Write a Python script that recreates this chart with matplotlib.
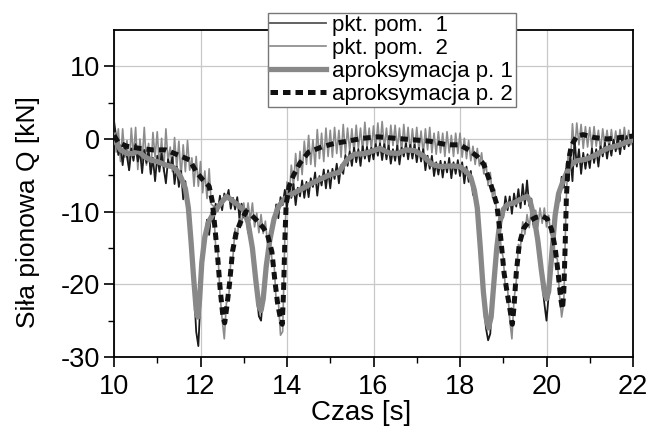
import numpy as np
import matplotlib
matplotlib.use("Agg")
import matplotlib.pyplot as plt

plt.rcParams['font.family'] = ['Liberation Sans', 'DejaVu Sans']
plt.rcParams['axes.unicode_minus'] = False

# =========================
# DATA
# =========================
# measurement samples, 0.05 s step
t_pom = np.round(np.arange(10.0, 22.0001, 0.05), 2)

pom_1 = [
    2.5, 0.3, -2.2, -0.9, -3.6, -0.9, -2.4, -4.3, -1.3, -3.0,
    -0.7, -3.1, -1.6, -4.7, -1.5, -3.3, -1.5, -4.8, -2.6, -5.8,
    -2.3, -4.5, -2.0, -4.1, -6.1, -2.8, -3.9, -2.5, -6.2, -3.8,
    -6.6, -4.4, -8.3, -5.8, -10.0, -10.8, -16.7, -20.6, -26.5, -28.5,
    -22.0, -15.1, -14.3, -11.1, -13.2, -10.1, -11.6, -8.9, -9.9, -7.8,
    -9.8, -7.5, -8.3, -7.0, -9.6, -8.1, -9.7, -8.0, -10.8, -8.9,
    -10.8, -9.6, -12.9, -12.4, -16.1, -17.2, -21.4, -24.4, -25.0, -21.3,
    -19.7, -15.5, -15.3, -11.8, -11.8, -9.0, -10.9, -8.0, -9.1, -7.0,
    -9.4, -6.9, -8.1, -6.2, -9.1, -6.7, -7.9, -5.7, -8.1, -5.9,
    -8.0, -5.4, -6.6, -4.6, -7.8, -5.1, -6.4, -4.2, -6.8, -4.3,
    -6.8, -4.1, -5.5, -3.4, -6.1, -3.6, -4.8, -2.2, -3.7, -1.7,
    -3.7, -1.2, -3.2, -1.4, -3.7, -1.0, -2.7, -1.1, -3.1, -1.2,
    -2.8, -0.7, -2.3, -0.6, -2.9, -0.7, -2.8, -0.9, -3.4, -1.4,
    -3.0, -0.9, -3.5, -1.2, -2.4, -0.6, -2.8, -0.8, -2.7, -0.8,
    -3.2, -1.2, -3.1, -1.4, -4.3, -2.3, -4.1, -2.3, -5.1, -3.2,
    -4.9, -3.0, -5.3, -3.1, -4.6, -2.6, -5.4, -3.2, -4.8, -2.9,
    -5.1, -3.2, -6.1, -3.8, -5.9, -4.4, -7.7, -6.9, -10.6, -14.3,
    -18.4, -22.5, -26.0, -27.7, -26.8, -21.6, -19.5, -14.1, -13.7, -10.0,
    -10.8, -7.9, -9.8, -7.9, -10.3, -7.5, -9.3, -6.9, -9.5, -6.2,
    -9.0, -5.7, -9.2, -8.2, -11.8, -11.3, -15.1, -15.6, -20.0, -22.6,
    -25.0, -21.5, -18.7, -12.9, -11.9, -7.8, -8.6, -5.2, -6.7, -4.1,
    -5.8, -2.4, -5.8, 0.0, -3.8, -1.4, -4.8, -1.9, -4.1, -2.1,
    -4.0, -1.3, -3.3, -1.4, -3.8, -1.0, -2.4, -0.5, -2.7, -0.7,
    -2.3, -0.1, -1.7, 0.3, -2.1, 0.1, -1.4, 0.4, -1.0, 0.4, -0.5,
]

pom_2 = [
    2.0, -1.8, 1.4, -3.1, 1.4, -2.5, -0.2, -4.3, 1.5, -2.4,
    1.6, -4.2, 0.0, -3.1, 1.6, -3.6, -0.6, -4.9, 0.9, -2.5,
    1.0, -3.9, 0.1, -4.5, 1.4, -3.1, -1.1, -4.5, 0.2, -4.0,
    -0.3, -5.2, -0.8, -4.5, -0.2, -4.3, -2.6, -6.5, -2.4, -6.5,
    -3.1, -7.4, -4.4, -8.2, -4.1, -9.0, -9.2, -14.7, -15.3, -21.3,
    -24.8, -27.5, -22.5, -22.2, -16.7, -16.2, -12.3, -13.7, -10.3, -11.9,
    -8.8, -11.1, -8.8, -11.2, -8.8, -12.1, -10.2, -12.9, -10.4, -13.0,
    -11.3, -14.4, -13.2, -16.5, -17.1, -22.3, -22.3, -27.0, -26.5, -13.5,
    -5.9, -8.2, -3.6, -6.5, -2.0, -5.7, -1.7, -4.9, -0.3, -3.5,
    0.5, -3.5, -0.1, -3.8, 1.3, -2.7, 0.8, -3.1, 1.5, -2.4,
    1.2, -2.5, 1.6, -2.0, 1.2, -2.5, 2.0, -2.0, 1.5, -1.6,
    1.4, -1.9, 1.9, -1.3, 1.5, -1.8, 2.3, -1.3, 1.5, -1.4,
    1.8, -1.6, 2.2, -1.0, 2.4, -1.3, 1.5, -1.7, 1.9, -0.9,
    1.9, -1.4, 1.5, -1.9, 2.0, -1.3, 1.6, -1.8, 1.4, -1.5,
    1.6, -1.6, 1.1, -2.1, 1.4, -1.5, 1.6, -1.9, 0.8, -2.1,
    1.0, -1.9, 0.8, -2.4, 1.0, -1.9, 0.5, -2.4, 0.8, -2.0,
    0.8, -2.5, 0.1, -2.7, -0.2, -3.0, -1.0, -3.5, -1.3, -3.7,
    -1.9, -4.8, -3.3, -6.4, -4.6, -8.0, -6.9, -10.2, -10.6, -15.1,
    -16.3, -20.7, -20.6, -24.9, -27.5, -22.0, -19.7, -14.5, -14.8, -11.4,
    -13.1, -10.4, -12.2, -9.6, -12.2, -9.8, -12.1, -9.5, -11.6, -9.5,
    -12.1, -10.5, -13.2, -12.5, -16.3, -16.5, -21.4, -24.5, -22.5, -9.5,
    -2.0, -3.7, 2.1, -1.7, 2.2, -0.8, 2.0, -1.3, 1.7, -1.1,
    1.6, -1.3, 1.7, -1.0, 1.2, -1.6, 1.4, -1.0, 1.2, -1.4,
    1.3, -1.2, 1.1, -1.4, 1.3, -1.0, 1.6, -0.7, 1.2, -0.8, 1.0,
]

# approximation, point 1
t_apr_1 = [
    10.00, 10.05, 10.15, 10.30, 10.45, 10.55, 10.70, 10.85, 11.00, 11.20,
    11.35, 11.45, 11.55, 11.65, 11.72, 11.78, 11.84, 11.90, 11.94, 11.98,
    12.03, 12.10, 12.18, 12.30, 12.45, 12.60, 12.72, 12.85, 13.00, 13.10,
    13.20, 13.28, 13.35, 13.40, 13.45, 13.52, 13.60, 13.70, 13.80, 13.95,
    14.10, 14.30, 14.60, 14.85, 15.00, 15.20, 15.30, 15.40, 15.55, 15.80,
    16.00, 16.15, 16.35, 16.55, 16.75, 16.95, 17.15, 17.35, 17.55, 17.80,
    18.00, 18.15, 18.25, 18.33, 18.40, 18.47, 18.54, 18.60, 18.66, 18.72,
    18.78, 18.85, 18.92, 19.00, 19.10, 19.25, 19.40, 19.55, 19.62, 19.72,
    19.80, 19.88, 19.95, 20.00, 20.05, 20.12, 20.20, 20.28, 20.40, 20.55,
    20.70, 20.90, 21.10, 21.40, 21.70, 22.00,
]
apr_1 = [
    0.5, -0.5, -1.5, -2.0, -2.0, -1.6, -2.4, -2.9, -3.1, -3.6,
    -3.8, -4.3, -5.3, -6.8, -9.5, -14.0, -19.0, -23.5, -24.5, -22.0,
    -17.0, -13.5, -11.5, -10.2, -9.0, -7.9, -8.4, -9.0, -9.8, -11.5,
    -15.0, -19.5, -23.0, -23.6, -22.0, -17.5, -14.0, -11.0, -9.3, -8.2,
    -7.6, -7.0, -6.0, -5.3, -4.9, -4.6, -3.6, -2.8, -2.1, -2.0,
    -1.6, -1.3, -1.9, -2.0, -1.5, -1.6, -2.3, -3.5, -3.8, -3.7,
    -3.8, -4.5, -5.3, -7.0, -9.5, -15.0, -21.0, -24.5, -26.0, -24.5,
    -20.0, -15.0, -11.5, -9.7, -9.0, -8.8, -8.3, -7.9, -8.5, -11.0,
    -14.0, -18.0, -21.0, -22.0, -21.0, -16.0, -10.5, -7.5, -5.5, -3.6,
    -3.0, -2.8, -2.3, -1.3, -0.8, -0.1,
]

# approximation, point 2
t_apr_2 = [
    10.00, 10.10, 10.30, 10.60, 10.90, 11.20, 11.40, 11.60, 11.75, 11.90,
    12.05, 12.20, 12.27, 12.33, 12.40, 12.46, 12.52, 12.56, 12.61, 12.67,
    12.74, 12.82, 12.92, 13.05, 13.15, 13.30, 13.45, 13.55, 13.65, 13.72,
    13.78, 13.85, 13.89, 13.92, 13.95, 13.98, 14.05, 14.15, 14.30, 14.50,
    14.80, 15.10, 15.40, 15.75, 16.10, 16.50, 16.90, 17.30, 17.70, 18.00,
    18.20, 18.40, 18.55, 18.70, 18.85, 18.94, 19.02, 19.10, 19.17, 19.21,
    19.25, 19.30, 19.37, 19.47, 19.60, 19.75, 19.90, 20.02, 20.12, 20.20,
    20.27, 20.33, 20.37, 20.40, 20.43, 20.46, 20.50, 20.57, 20.70, 20.85,
    21.10, 21.40, 21.70, 22.00,
]
apr_2 = [
    0.5, -0.5, -1.0, -1.3, -1.5, -1.5, -2.0, -2.5, -2.9, -4.5,
    -5.6, -6.5, -8.5, -12.0, -16.5, -21.0, -24.5, -25.3, -23.0, -20.0,
    -15.5, -13.0, -11.5, -10.0, -10.3, -11.2, -12.2, -13.2, -15.5, -19.5,
    -22.5, -24.8, -25.5, -21.0, -14.0, -9.0, -6.5, -5.0, -3.3, -1.8,
    -1.1, -0.6, -0.3, 0.1, 0.3, 0.1, -0.1, -0.3, -0.8, -0.8,
    -1.5, -2.4, -3.5, -6.0, -9.0, -13.5, -18.5, -21.5, -24.0, -25.5,
    -23.0, -18.5, -14.5, -12.3, -11.3, -10.8, -10.6, -11.0, -12.5, -15.0,
    -18.5, -22.0, -23.4, -21.0, -15.0, -8.0, -3.5, -1.0, 0.4, 0.6,
    0.2, 0.0, 0.2, 0.4,
]

x_ticks = [10, 12, 14, 16, 18, 20, 22]
y_ticks = [-30, -20, -10, 0, 10]


# =========================
# PLOT
# =========================
def plot_force():
    fig = plt.figure(figsize=(6.52, 4.26), dpi=100)
    ax = fig.add_axes([114 / 652, 1 - 357 / 426, 519 / 652, 327 / 426])

    ax.plot(t_pom, pom_2, color='#8c8c8c', lw=1.2, label='pkt. pom.  2', zorder=2)
    ax.plot(t_pom, pom_1, color='#1a1a1a', lw=1.3, label='pkt. pom.  1', zorder=3)
    ax.plot(t_apr_1, apr_1, color='#888888', lw=3.8, solid_joinstyle='round',
            label='aproksymacja p. 1', zorder=4)
    ax.plot(t_apr_2, apr_2, color='#111111', lw=3.6, linestyle=(0, (1.5, 1.0)),
            label='aproksymacja p. 2', zorder=5)

    ax.set_xlim(10, 22)
    ax.set_ylim(-30, 15)
    ax.set_xticks(x_ticks)
    ax.set_yticks(y_ticks)
    ax.set_xticks(np.arange(11, 22, 2), minor=True)
    ax.set_yticks([-25, -15, -5, 5], minor=True)
    ax.tick_params(which='major', direction='out', length=7, width=1.2, labelsize=19.5)
    ax.tick_params(which='minor', direction='out', length=4, width=1.0)
    ax.tick_params(axis='y', pad=3)
    ax.tick_params(axis='x', pad=5)
    ax.grid(True, which='major', color='#c8c8c8', lw=0.9, zorder=0)
    for s in ax.spines.values():
        s.set_linewidth(1.3)
        s.set_color('black')

    fig.text(28 / 652, 1 - 212 / 426, 'Siła pionowa Q [kN]', rotation=90,
             ha='center', va='center', fontsize=19)
    fig.text(361 / 652, 1 - 413 / 426, 'Czas [s]', ha='center', va='center', fontsize=20)

    handles, labels = ax.get_legend_handles_labels()
    order = [1, 0, 2, 3]
    leg = ax.legend([handles[i] for i in order], [labels[i] for i in order],
                    loc='upper left', bbox_to_anchor=(268 / 652, 1 - 13 / 426),
                    bbox_transform=fig.transFigure, borderaxespad=0,
                    fontsize=16, fancybox=False, framealpha=1, edgecolor='#777777',
                    handlelength=2.5, handletextpad=0.3, labelspacing=0.08,
                    borderpad=0.1)
    leg.get_frame().set_linewidth(1.0)
    leg.legend_handles[0].set_color('#555555')
    leg.legend_handles[1].set_color('#888888')
    leg.set_zorder(10)

    fig.savefig('out.png', dpi=100)


if __name__ == "__main__":
    plot_force()
